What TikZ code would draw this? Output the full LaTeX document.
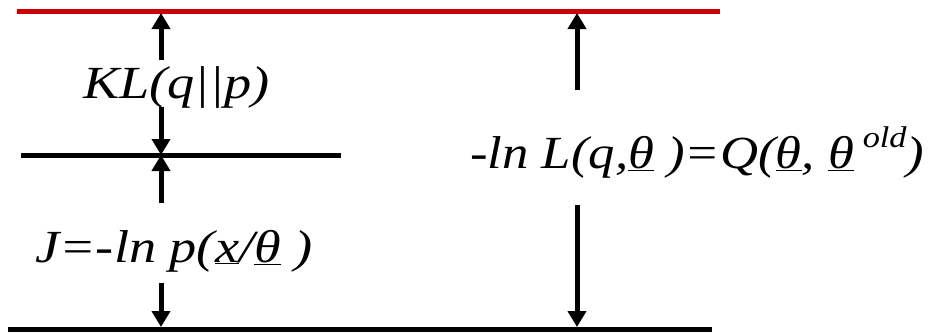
\documentclass[tikz,border=0pt]{standalone}
\usepackage{fontspec}
\usepackage{graphicx}
\setmainfont{Liberation Serif}
\usetikzlibrary{arrows.meta}
\definecolor{topred}{RGB}{204,0,0}
\newcommand{\widetxt}[2][1.18]{\scalebox{#1}[1]{#2}}
\begin{document}
\begin{tikzpicture}[x=1pt,y=-1pt,
  level/.style={line width=5pt},
  gap/.style={line width=5pt,-{Triangle[width=18pt,length=16pt]}},
  lbl/.style={font=\fontsize{46}{50}\selectfont\itshape,inner sep=0pt,anchor=base west}]
\useasboundingbox (0,0) rectangle (929,332);
% levels
\coordinate (redL) at (17,11);
\coordinate (redR) at (720,11);
\coordinate (midL) at (21,155);
\coordinate (midR) at (341,155);
\coordinate (botL) at (8,329);
\coordinate (botR) at (712,329);
\draw[level,topred] (redL) -- (redR);
\draw[level] (midL) -- (midR);
\draw[level] (botL) -- (botR);
% labels
\node[lbl] (kl) at (83,98) {\widetxt{KL(q||p)}};
\node[lbl] (jj) at (35,262) {\widetxt{J=-ln p(\underline{x}/\underline{θ} )}};
\node[lbl] (ll) at (470,168) {\widetxt[1.145]{-ln L(q,\underline{θ} )=Q(\underline{θ}, \underline{θ}\,\raisebox{0.45em}{\fontsize{30}{30}\selectfont old})}};
% arrow ends
\coordinate (a1s) at (161,60);
\coordinate (a1e) at (161,13);
\coordinate (a2s) at (161,107);
\coordinate (a2e) at (161,155);
\coordinate (a3s) at (161,203);
\coordinate (a3e) at (161,155);
\coordinate (a4s) at (161,283);
\coordinate (a4e) at (161,327);
\coordinate (b1s) at (577,90);
\coordinate (b1e) at (577,13);
\coordinate (b2s) at (577,205);
\coordinate (b2e) at (577,327);
\draw[gap] (a1s) -- (a1e);
\draw[gap] (a2s) -- (a2e);
\draw[gap] (a3s) -- (a3e);
\draw[gap] (a4s) -- (a4e);
\draw[gap] (b1s) -- (b1e);
\draw[gap] (b2s) -- (b2e);
\end{tikzpicture}
\end{document}
